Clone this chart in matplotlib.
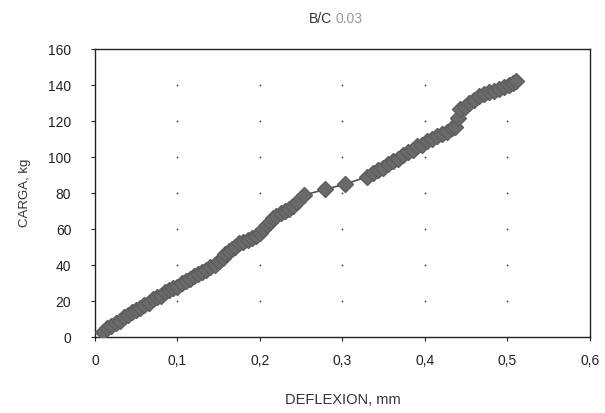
import numpy as np
import matplotlib.pyplot as plt

plt.rcParams['font.family'] = ['Liberation Sans', 'DejaVu Sans']

# deflexion (mm) y carga (kg)
deflexion = [0.010, 0.015, 0.020, 0.025, 0.030, 0.035, 0.040, 0.045, 0.050, 0.055,
             0.060, 0.065, 0.070, 0.075, 0.080, 0.085, 0.090, 0.095, 0.100, 0.105,
             0.110, 0.115, 0.120, 0.125, 0.130, 0.135, 0.140, 0.145, 0.150, 0.155,
             0.158, 0.162, 0.166, 0.170, 0.175, 0.180, 0.185, 0.190, 0.195, 0.200,
             0.204, 0.208, 0.212, 0.216, 0.220, 0.225, 0.230, 0.235, 0.240, 0.245,
             0.254, 0.279, 0.303, 0.330, 0.337, 0.343, 0.349, 0.355, 0.361, 0.367,
             0.373, 0.379, 0.385, 0.391, 0.397, 0.403, 0.409, 0.415, 0.421, 0.427,
             0.433, 0.437, 0.440, 0.443, 0.448, 0.454, 0.460, 0.466, 0.472, 0.478,
             0.484, 0.490, 0.496, 0.502, 0.507, 0.511]
carga = [3, 5, 6, 8, 9, 11, 12, 14, 15, 16,
         18, 19, 21, 22, 23, 25, 26, 27, 28, 30,
         31, 32, 34, 35, 36, 37, 39, 40, 42, 44,
         46, 48, 49, 50, 52, 53, 54, 55, 56, 58,
         60, 62, 64, 66, 67, 69, 70, 71, 73, 75,
         79, 82, 85, 89, 91, 93, 94, 96, 98, 99,
         101, 103, 104, 106, 107, 109, 110, 112, 113, 114,
         116, 117, 122, 127, 128, 130, 132, 134, 135, 136,
         137, 138, 139, 140, 141, 142.5]

xticks = [0, 0.1, 0.2, 0.3, 0.4, 0.5, 0.6]
xlabels = ['0', '0,1', '0,2', '0,3', '0,4', '0,5', '0,6']
yticks = [0, 20, 40, 60, 80, 100, 120, 140, 160]

fig = plt.figure(figsize=(6.05, 4.13), dpi=100)
ax = fig.add_axes([0.157, 0.184, 0.818, 0.697])

# puntitos de la rejilla en las intersecciones
gx, gy = np.meshgrid(xticks[1:-1], yticks[1:-1])
ax.scatter(gx.ravel(), gy.ravel(), s=1.5, color='#333333', zorder=1, linewidths=0)

ax.plot(deflexion, carga, color='#505050', lw=1.2, marker='D', markersize=8.5,
        markerfacecolor='#6a6a6a', markeredgecolor='#5e5e5e', zorder=3)

ax.set_xlim(0, 0.6)
ax.set_ylim(0, 160)
ax.set_xticks(xticks)
ax.set_xticklabels(xlabels)
ax.set_yticks(yticks)
ax.tick_params(labelsize=10, colors='#222222', length=3, width=0.8)
ax.tick_params(axis='x', pad=9)
ax.tick_params(axis='y', pad=14)
for s in ax.spines.values():
    s.set_linewidth(1.0)
    s.set_color('#222222')

ax.set_xlabel('DEFLEXION, mm', fontsize=10.5, color='#333333', labelpad=18)
ax.set_ylabel('CARGA, kg', fontsize=9.5, color='#333333', labelpad=12)

fig.text(0.548, 0.955, 'B/C', fontsize=10, color='#333333', ha='right', va='center')
fig.text(0.555, 0.955, '0.03', fontsize=10, color='#999999', ha='left', va='center')

fig.savefig('out.png', dpi=100)
